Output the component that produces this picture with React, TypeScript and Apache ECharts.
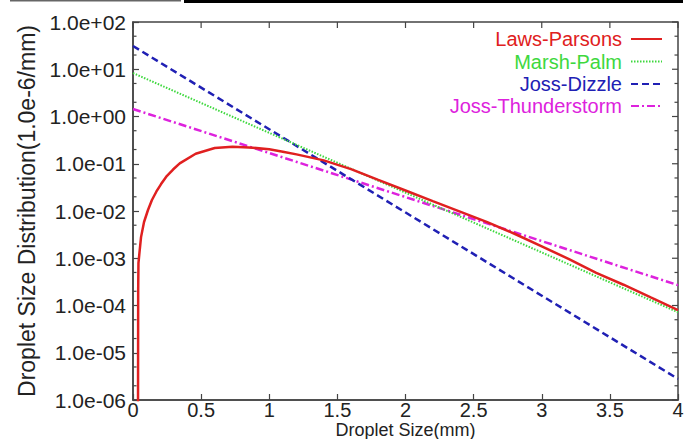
import React, { useEffect, useRef } from "react";
import * as echarts from "echarts";

const xTickLabels = ["0", "0.5", "1", "1.5", "2", "2.5", "3", "3.5", "4"];
const xTickValues = [0, 0.5, 1, 1.5, 2, 2.5, 3, 3.5, 4];
const yMajorTicks = [1e-6, 1e-5, 1e-4, 1e-3, 1e-2, 1e-1, 1, 10, 100];
const yMinorTicks = [2e-6, 5e-6, 2e-5, 5e-5, 2e-4, 5e-4, 2e-3, 5e-3, 2e-2, 5e-2, 0.2, 0.5, 2, 5, 20, 50];

const lawsD = [0.036, 0.038, 0.04, 0.048, 0.059, 0.081, 0.11, 0.139, 0.171, 0.206, 0.244, 0.294, 0.343, 0.46, 0.6, 0.73, 0.85, 1.0, 1.1, 1.2, 1.4, 1.6, 1.8, 2.0, 2.2, 2.4, 2.6, 2.8, 3.0, 3.2, 3.4, 3.6, 3.8, 4.0];
const lawsN = [1e-8, 2e-4, 7.9e-4, 1.36e-3, 2.8e-3, 5.85e-3, 0.0105, 0.0171, 0.0256, 0.0372, 0.0532, 0.0755, 0.102, 0.163, 0.215, 0.23, 0.222, 0.202, 0.18, 0.158, 0.118, 0.077, 0.0455, 0.0272, 0.0162, 0.0097, 0.0058, 0.0033, 0.00178, 9.6e-4, 4.9e-4, 2.75e-4, 1.48e-4, 8.0e-5];

const marshD = [0, 4];
const marshN = [8.3, 7.2e-5];

const drizzleD = [0, 4];
const drizzleN = [31, 2.8e-6];

const thunderD = [0, 4];
const thunderN = [1.44, 2.7e-4];

const seriesNames = ["Laws-Parsons", "Marsh-Palm", "Joss-Dizzle", "Joss-Thunderstorm"];
const seriesColors = ["#e02020", "#3ed83e", "#2020b4", "#dd22dd"];

const FONT = "'Liberation Sans', Arial, sans-serif";
const AX = "#444";

function pairs(xs: number[], ys: number[]) {
  return xs.map((x, i) => [x, ys[i]]);
}

function fmtExp(v: number) {
  const e = Math.round(Math.log10(v));
  const sign = e < 0 ? "-" : "+";
  return "1.0e" + sign + String(Math.abs(e)).padStart(2, "0");
}

export default function App() {
  const ref = useRef<HTMLDivElement>(null);
  useEffect(() => {
    if (!ref.current) return;
    const chart = echarts.init(ref.current, null, { renderer: "svg" });
    const legendTops = [29, 51.5, 74, 96];
    const lineStyles: any[] = [
      { width: 2.5, type: "solid" },
      { width: 2, type: [1.5, 1.5] },
      { width: 2.5, type: [7, 4] },
      { width: 2.5, type: [8, 3, 2, 3] },
    ];
    const datas = [pairs(lawsD, lawsN), pairs(marshD, marshN), pairs(drizzleD, drizzleN), pairs(thunderD, thunderN)];
    const axisLine = { show: true, onZero: false, lineStyle: { color: AX, width: 1.5 } };
    const axisTick = { show: true, inside: true, length: 6, lineStyle: { color: AX, width: 1.2 } };
    // tick marks: kind 0 = y minor (both sides), 1 = y major right side, 2 = x top
    const tickData: number[][] = [
      ...yMinorTicks.map((v) => [0, v, 0]),
      ...yMajorTicks.map((v) => [0, v, 1]),
      ...xTickValues.map((v) => [v, 100, 2]),
    ];
    const option: any = {
      animation: false,
      backgroundColor: "#fff",
      textStyle: { fontFamily: FONT },
      grid: {
        left: 133,
        right: 12,
        top: 22,
        bottom: 39,
        containLabel: false,
        outerBoundsMode: "none",
        show: true,
        borderColor: AX,
        borderWidth: 1.5,
        backgroundColor: "transparent",
      },
      legend: seriesNames.map((n, i) => ({
        data: [n],
        right: 27,
        top: legendTops[i],
        align: "right",
        itemWidth: 31,
        itemHeight: 14,
        padding: 0,
        selectedMode: false,
        itemStyle: { opacity: 0 },
        textStyle: { color: seriesColors[i], fontSize: 20, fontFamily: FONT, lineHeight: 20, padding: [0, 4, 0, 0] },
      })),
      xAxis: {
        type: "value",
        min: 0,
        max: 4,
        interval: 0.5,
        position: "bottom",
        name: "Droplet Size(mm)",
        nameLocation: "middle",
        nameGap: 21,
        nameMoveOverlap: false,
        nameTextStyle: { fontSize: 18, lineHeight: 18, color: "#222", fontFamily: FONT },
        axisLine,
        axisTick,
        axisLabel: {
          fontSize: 20,
          lineHeight: 20,
          color: "#222",
          margin: 0,
          fontFamily: FONT,
          formatter: (v: number) => xTickLabels[Math.round(v * 2)],
        },
        splitLine: { show: false },
      },
      yAxis: {
        type: "log",
        logBase: 10,
        min: 1e-6,
        max: 100,
        position: "left",
        name: "Droplet Size Distribution(1.0e-6/mm)",
        nameLocation: "middle",
        nameGap: 95,
        nameRotate: 90,
        nameMoveOverlap: false,
        nameTextStyle: { fontSize: 23, color: "#222", fontFamily: FONT },
        axisLine,
        axisTick,
        axisLabel: { fontSize: 21, color: "#222", margin: 7, fontFamily: FONT, formatter: fmtExp },
        splitLine: { show: false },
      },
      series: [
        ...seriesNames.map((n, i) => ({
          name: n,
          type: "line",
          data: datas[i],
          symbol: "none",
          smooth: false,
          clip: true,
          color: seriesColors[i],
          lineStyle: { color: seriesColors[i], ...lineStyles[i] },
          z: 10 - i,
        })),
        {
          type: "custom",
          silent: true,
          clip: false,
          z: 20,
          data: tickData,
          renderItem: (params: any, api: any) => {
            const kind = api.value(2);
            const st = { stroke: AX, lineWidth: 1.2 };
            if (kind === 2) {
              const p = api.coord([api.value(0), 100]);
              return { type: "line", shape: { x1: p[0], y1: p[1], x2: p[0], y2: p[1] + 6 }, style: st };
            }
            const y = api.value(1);
            const p0 = api.coord([0, y]);
            const p1 = api.coord([4, y]);
            if (kind === 1) {
              return { type: "line", shape: { x1: p1[0] - 6, y1: p1[1], x2: p1[0], y2: p1[1] }, style: st };
            }
            return {
              type: "group",
              children: [
                { type: "line", shape: { x1: p0[0], y1: p0[1], x2: p0[0] + 3.5, y2: p0[1] }, style: st },
                { type: "line", shape: { x1: p1[0] - 3.5, y1: p1[1], x2: p1[0], y2: p1[1] }, style: st },
              ],
            };
          },
        },
      ],
      graphic: [
        { type: "rect", left: 10, top: 0, shape: { width: 171, height: 1.5 }, style: { fill: "#666" }, silent: true },
        { type: "rect", left: 184, top: 0, shape: { width: 499, height: 3 }, style: { fill: "#000" }, silent: true },
      ],
    };
    chart.setOption(option);
    return () => chart.dispose();
  }, []);
  return <div ref={ref} style={{ position: "fixed", left: 0, top: 0, width: 690, height: 439 }} />;
}
